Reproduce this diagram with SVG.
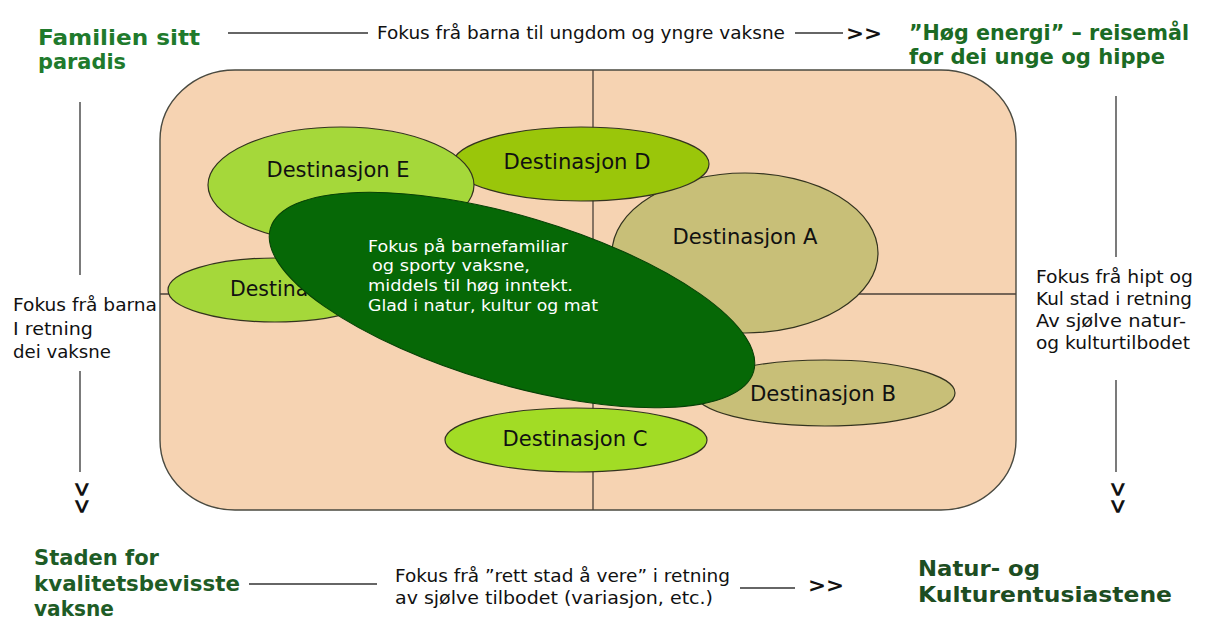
<svg xmlns="http://www.w3.org/2000/svg" width="1207" height="621" viewBox="0 0 1207 621">
<style>
.bg{fill:#ffffff}
.board{fill:#F6D3B2;stroke:#4a4a40;stroke-width:1.4}
.div{stroke:#4a4038;stroke-width:1.3;fill:none}
.ell{stroke:#33331f;stroke-width:1.2}
.lg{fill:#A5D83A}
.lc{fill:#A2DC25}
.md{fill:#9AC60A}
.kh{fill:#C8BF78}
.dk{fill:#066806;stroke:#064006;stroke-width:1}
.lbl{font-family:"DejaVu Sans",Verdana,sans-serif;font-size:21px;fill:#111;text-anchor:middle}
.inner{font-family:"DejaVu Sans",Verdana,sans-serif;font-size:16.5px;fill:#ffffff}
.body{font-family:"DejaVu Sans",Verdana,sans-serif;font-size:17.5px;fill:#111}
.head{font-family:"DejaVu Sans",Verdana,sans-serif;font-size:22px;font-weight:bold}
.conn{stroke:#333;stroke-width:1.3;fill:none}
.chev{font-family:"DejaVu Sans",Verdana,sans-serif;font-size:20px;font-weight:bold;fill:#111}
.vchev{font-family:"DejaVu Sans",Verdana,sans-serif;font-size:24px;font-weight:bold;fill:#111}
</style>
<rect class="bg" x="0" y="0" width="1207" height="621"/>
<g id="board">
  <rect class="board" x="160" y="70" width="856" height="440" rx="75" ry="70"/>
  <line class="div" x1="593" y1="70" x2="593" y2="510"/>
  <line class="div" x1="160" y1="294" x2="1016" y2="294"/>
</g>
<g id="dest-a">
  <ellipse class="ell kh" cx="745" cy="253" rx="133" ry="80"/>
  <text class="lbl" x="745" y="244" textLength="145" lengthAdjust="spacingAndGlyphs">Destinasjon A</text>
</g>
<g id="dest-d">
  <ellipse class="ell md" cx="581" cy="164" rx="128" ry="37"/>
  <text class="lbl" x="577" y="169" textLength="147" lengthAdjust="spacingAndGlyphs">Destinasjon D</text>
</g>
<g id="dest-e">
  <ellipse class="ell lg" cx="341" cy="185" rx="133" ry="58"/>
  <text class="lbl" x="338" y="177" textLength="143" lengthAdjust="spacingAndGlyphs">Destinasjon E</text>
</g>
<g id="dest-f">
  <ellipse class="ell lg" cx="275" cy="290" rx="107" ry="32"/>
  <text class="lbl" x="230" y="296" style="text-anchor:start" textLength="120" lengthAdjust="spacingAndGlyphs">Destinasjon</text>
</g>
<g id="dest-b">
  <ellipse class="ell kh" cx="825" cy="393" rx="130" ry="33"/>
  <text class="lbl" x="823" y="401" textLength="146" lengthAdjust="spacingAndGlyphs">Destinasjon B</text>
</g>
<g id="focus">
  <ellipse class="dk" cx="512" cy="300" rx="252" ry="84" transform="rotate(16.5 512 300)"/>
  <text class="inner" x="368" y="252" textLength="200" lengthAdjust="spacingAndGlyphs">Fokus på barnefamiliar</text>
  <text class="inner" x="372" y="271" textLength="158" lengthAdjust="spacingAndGlyphs">og sporty vaksne,</text>
  <text class="inner" x="368" y="291" textLength="205" lengthAdjust="spacingAndGlyphs">middels til høg inntekt.</text>
  <text class="inner" x="368" y="311" textLength="230" lengthAdjust="spacingAndGlyphs">Glad i natur, kultur og mat</text>
</g>
<g id="dest-c">
  <ellipse class="ell lc" cx="576" cy="440" rx="131" ry="32"/>
  <text class="lbl" x="575" y="446" textLength="145" lengthAdjust="spacingAndGlyphs">Destinasjon C</text>
</g>
<g id="connectors">
  <line class="conn" x1="228" y1="33" x2="368" y2="33"/>
  <line class="conn" x1="795" y1="33" x2="843" y2="33"/>
  <text class="chev" x="846" y="40" textLength="36" lengthAdjust="spacingAndGlyphs">&gt;&gt;</text>
  <line class="conn" x1="80" y1="102" x2="80" y2="275"/>
  <line class="conn" x1="80" y1="371" x2="80" y2="472"/>
  <text class="vchev" transform="translate(74,481) rotate(90)" textLength="34" lengthAdjust="spacingAndGlyphs">&gt;&gt;</text>
  <line class="conn" x1="1116" y1="96" x2="1116" y2="257"/>
  <line class="conn" x1="1116" y1="380" x2="1116" y2="472"/>
  <text class="vchev" transform="translate(1110,481) rotate(90)" textLength="34" lengthAdjust="spacingAndGlyphs">&gt;&gt;</text>
  <line class="conn" x1="249" y1="584" x2="377" y2="584"/>
  <line class="conn" x1="740" y1="588" x2="795" y2="588"/>
  <text class="chev" x="808" y="592" textLength="36" lengthAdjust="spacingAndGlyphs">&gt;&gt;</text>
</g>
<g id="top-text">
  <text class="body" x="377" y="39" textLength="408" lengthAdjust="spacingAndGlyphs">Fokus frå barna til ungdom og yngre vaksne</text>
</g>
<g id="left-text">
  <text class="body" x="13" y="311" textLength="144" lengthAdjust="spacingAndGlyphs">Fokus frå barna</text>
  <text class="body" x="13" y="335" textLength="80" lengthAdjust="spacingAndGlyphs">I retning</text>
  <text class="body" x="13" y="358" textLength="98" lengthAdjust="spacingAndGlyphs">dei vaksne</text>
</g>
<g id="right-text">
  <text class="body" x="1036" y="283" textLength="157" lengthAdjust="spacingAndGlyphs">Fokus frå hipt og</text>
  <text class="body" x="1036" y="305" textLength="156" lengthAdjust="spacingAndGlyphs">Kul stad i retning</text>
  <text class="body" x="1036" y="327" textLength="150" lengthAdjust="spacingAndGlyphs">Av sjølve natur-</text>
  <text class="body" x="1036" y="349" textLength="154" lengthAdjust="spacingAndGlyphs">og kulturtilbodet</text>
</g>
<g id="bottom-text">
  <text class="body" x="395" y="582" textLength="335" lengthAdjust="spacingAndGlyphs">Fokus frå ”rett stad å vere” i retning</text>
  <text class="body" x="395" y="604" textLength="318" lengthAdjust="spacingAndGlyphs">av sjølve tilbodet  (variasjon, etc.)</text>
</g>
<g id="corner-tl">
  <text class="head" x="38" y="45" fill="#207A2C" textLength="162" lengthAdjust="spacingAndGlyphs">Familien sitt</text>
  <text class="head" x="38" y="69" fill="#207A2C" textLength="88" lengthAdjust="spacingAndGlyphs">paradis</text>
</g>
<g id="corner-tr">
  <text class="head" x="909" y="40" fill="#1B6B24" style="font-size:21px" textLength="280" lengthAdjust="spacingAndGlyphs">”Høg energi” – reisemål</text>
  <text class="head" x="909" y="64" fill="#1B6B24" textLength="256" lengthAdjust="spacingAndGlyphs">for dei unge og hippe</text>
</g>
<g id="corner-bl">
  <text class="head" x="34" y="565" fill="#1E5C26" textLength="125" lengthAdjust="spacingAndGlyphs">Staden for</text>
  <text class="head" x="34" y="591" fill="#1E5C26" textLength="206" lengthAdjust="spacingAndGlyphs">kvalitetsbevisste</text>
  <text class="head" x="34" y="616" fill="#1E5C26" textLength="80" lengthAdjust="spacingAndGlyphs">vaksne</text>
</g>
<g id="corner-br">
  <text class="head" x="918" y="576" fill="#1D4D22" textLength="122" lengthAdjust="spacingAndGlyphs">Natur- og</text>
  <text class="head" x="918" y="602" fill="#1D4D22" textLength="254" lengthAdjust="spacingAndGlyphs">Kulturentusiastene</text>
</g>
</svg>
